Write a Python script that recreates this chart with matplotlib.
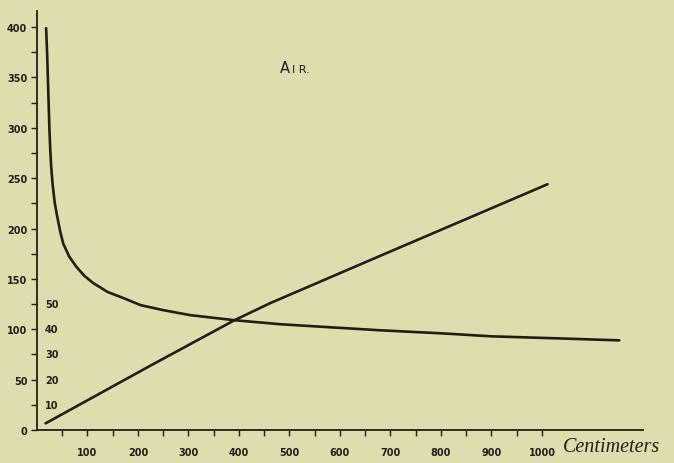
import numpy as np
import matplotlib.pyplot as plt

# falling curve
curve_cm = [18, 20, 21.5, 23, 24.5, 26.3, 28, 30.7, 35, 40, 46, 52, 64, 78, 94,
            111, 140, 171, 205, 250, 304, 391, 482, 580, 680, 800, 900, 1030, 1153]
curve_val = [399, 375, 350, 325, 300, 278, 262, 245, 226, 212, 197, 185, 172, 162, 153,
             146, 137, 131, 124, 119, 114, 109, 105, 102, 99, 96, 93, 91, 89]

# rising line
line_cm = [17, 225, 391, 462, 680, 1011]
line_val = [6.6, 64, 109, 126, 173, 244]

x_ticks = np.arange(50, 1001, 50)
x_labels = [str(t) if t % 100 == 0 else '' for t in x_ticks]
y_ticks = np.arange(0, 401, 25)
y_labels = [str(t) if t % 50 == 0 else '' for t in y_ticks]
inner_vals = [25, 50, 75, 100, 125]
inner_labels = ['10', '20', '30', '40', '50']

bg = '#deddae'
ink = '#241c14'

fig = plt.figure(figsize=(6.74, 4.64), dpi=100, facecolor=bg)
ax = fig.add_axes([37/674, 33/464, 606/674, 419/464], facecolor=bg)
ax.set_xlim(0, 1200)
ax.set_ylim(0, 416)

ax.plot(curve_cm, curve_val, color=ink, lw=1.9, solid_capstyle='round')
ax.plot(line_cm, line_val, color=ink, lw=1.9, solid_capstyle='round')

for s in ['top', 'right']:
    ax.spines[s].set_visible(False)
for s in ['left', 'bottom']:
    ax.spines[s].set_color(ink)
    ax.spines[s].set_linewidth(1.3)

ax.set_xticks(x_ticks)
ax.set_xticklabels(x_labels)
ax.set_yticks(y_ticks)
ax.set_yticklabels(y_labels)
ax.tick_params(axis='x', direction='out', length=4, width=1, color=ink, pad=8,
               labelsize=7, labelcolor=ink)
ax.tick_params(axis='y', direction='out', length=4, width=1, color=ink, pad=3,
               labelsize=7, labelcolor=ink)
for lab in ax.get_xticklabels() + ax.get_yticklabels():
    lab.set_fontweight('bold')

# inner scale
for v, t in zip(inner_vals, inner_labels):
    ax.text(16, v, t, fontsize=7, fontweight='bold', color=ink, va='center', ha='left')

# title
ax.text(500, 355, 'A', fontsize=10.5, color=ink, ha='right', va='baseline')
ax.text(505, 355, 'I R.', fontsize=8, color=ink, ha='left', va='baseline')

# axis unit
ax.text(1042, -16, 'Centimeters', fontsize=14.5, color=ink, style='italic',
        family='Liberation Serif', ha='left', va='center', clip_on=False)

fig.savefig('out.png', dpi=100, facecolor=bg)
